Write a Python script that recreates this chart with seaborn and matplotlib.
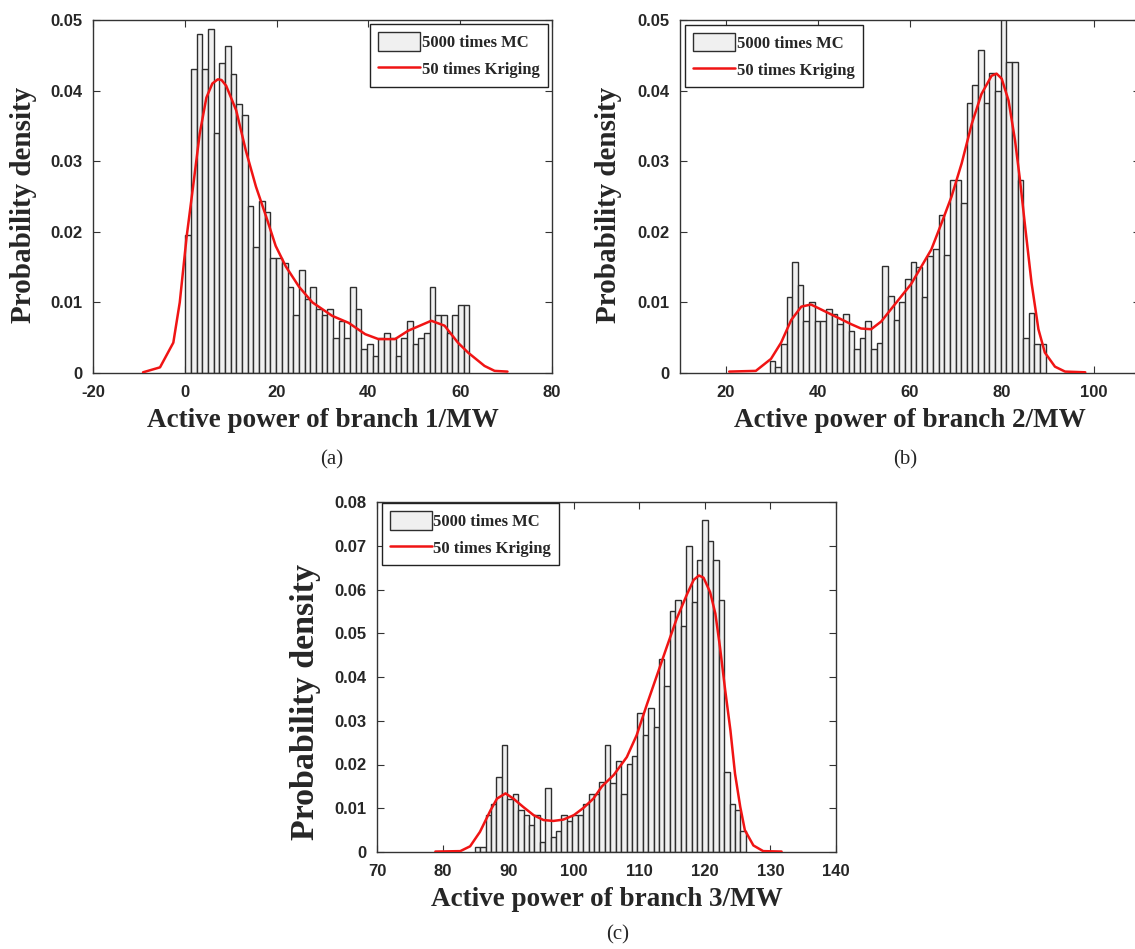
import numpy as np
import pandas as pd
import matplotlib
matplotlib.use("Agg")
import matplotlib.pyplot as plt
import seaborn as sns
from matplotlib.patches import Patch
from matplotlib.lines import Line2D
from matplotlib.font_manager import FontProperties

sns.set_style("ticks")
plt.rcParams["font.family"] = ["Liberation Serif", "DejaVu Serif"]

# ---------------- data ----------------
legend_labels = ["5000 times MC", "50 times Kriging"]

# panel (a)
a_bin_range = (0.1, 62.0)
a_mc_density = [0.0196, 0.0430, 0.0480, 0.0430, 0.0487, 0.0340, 0.0439, 0.0463, 0.0423, 0.0381,
                0.0365, 0.0236, 0.0179, 0.0244, 0.0228, 0.0163, 0.0163, 0.0156, 0.0122, 0.0082,
                0.0146, 0.0105, 0.0122, 0.0090, 0.0082, 0.0090, 0.0050, 0.0074, 0.0050, 0.0122,
                0.0090, 0.0034, 0.0041, 0.0024, 0.0050, 0.0057, 0.0050, 0.0024, 0.0050, 0.0074,
                0.0041, 0.0050, 0.0057, 0.0122, 0.0082, 0.0082, 0.0057, 0.0082, 0.0097, 0.0097]
a_krig_x = [-9.1, -5.4, -2.5, -1.1, 0.4, 1.8, 3.25, 4.7, 6.0, 7.2, 8.0, 9.0, 11.2, 13.3, 15.5,
            17.7, 19.8, 22.0, 24.9, 27.8, 32.1, 35.7, 39.3, 42.2, 45.8, 48.7, 53.7, 56.6,
            59.5, 61.7, 65.3, 67.5, 70.3]
a_krig_y = [0.0001, 0.0008, 0.0043, 0.0100, 0.0193, 0.0264, 0.0339, 0.0390, 0.0410, 0.0416,
            0.0415, 0.0407, 0.0372, 0.0315, 0.0264, 0.0222, 0.0180, 0.0151, 0.0122, 0.0100,
            0.0081, 0.0071, 0.0055, 0.0048, 0.0048, 0.0060, 0.0074, 0.0067, 0.0043, 0.0029,
            0.0010, 0.0003, 0.0002]
a_xticks = [-20, 0, 20, 40, 60, 80]
a_xticklabels = ["-20", "0", "20", "40", "60", "80"]
a_xlabel = "Active power of branch 1/MW"

# panel (b)
b_bin_range = (29.5, 89.6)
b_mc_density = [0.0017, 0.0008, 0.0041, 0.0108, 0.0157, 0.0124, 0.0074, 0.0100, 0.0074, 0.0074,
                0.0091, 0.0083, 0.0069, 0.0083, 0.0060, 0.0034, 0.0050, 0.0074, 0.0034, 0.0043,
                0.0151, 0.0109, 0.0075, 0.0100, 0.0133, 0.0157, 0.0150, 0.0108, 0.0166, 0.0175,
                0.0224, 0.0167, 0.0273, 0.0273, 0.0241, 0.0383, 0.0408, 0.0457, 0.0383, 0.0425,
                0.0400, 0.0530, 0.0441, 0.0441, 0.0273, 0.0050, 0.0085, 0.0041, 0.0041]
b_krig_x = [20.7, 26.5, 29.8, 32.0, 34.2, 36.4, 38.5, 40.7, 42.9, 45.1, 47.3, 49.4, 51.6, 53.8,
            56.0, 58.2, 60.3, 64.7, 66.9, 69.1, 71.3, 73.5, 75.6, 77.8, 78.9, 80.0, 81.5, 82.9,
            84.0, 85.1, 86.5, 88.0, 89.4, 91.6, 93.8, 98.2]
b_krig_y = [0.0002, 0.0003, 0.0020, 0.0043, 0.0075, 0.0094, 0.0097, 0.0090, 0.0083, 0.0076,
            0.0069, 0.0063, 0.0062, 0.0073, 0.0091, 0.0109, 0.0126, 0.0175, 0.0212, 0.0250,
            0.0297, 0.0353, 0.0395, 0.0421, 0.0424, 0.0417, 0.0386, 0.0330, 0.0273, 0.0208,
            0.0128, 0.0062, 0.0029, 0.0009, 0.0002, 0.0001]
b_xticks = [20, 40, 60, 80, 100]
b_xticklabels = ["20", "40", "60", "80", "100"]
b_xlabel = "Active power of branch 2/MW"

# panel (c)
c_bin_range = (84.9, 126.25)
c_mc_density = [0.0011, 0.0011, 0.0084, 0.0110, 0.0171, 0.0244, 0.0122, 0.0133, 0.0097, 0.0084,
                0.0061, 0.0085, 0.0023, 0.0146, 0.0034, 0.0048, 0.0085, 0.0072, 0.0085, 0.0085,
                0.0109, 0.0133, 0.0133, 0.0160, 0.0244, 0.0157, 0.0208, 0.0133, 0.0202, 0.0220,
                0.0318, 0.0268, 0.0330, 0.0286, 0.0442, 0.0379, 0.0552, 0.0577, 0.0516, 0.0699,
                0.0571, 0.0668, 0.0760, 0.0711, 0.0668, 0.0577, 0.0183, 0.0109, 0.0097, 0.0048]
c_krig_x = [78.9, 82.7, 84.2, 85.7, 87.3, 88.3, 89.6, 90.8, 92.3, 93.9, 95.4, 96.9, 98.4, 100.0,
            101.5, 103.0, 104.3, 106.1, 108.1, 109.6, 111.2, 112.7, 114.2, 115.7, 117.3, 118.3,
            119.1, 119.8, 120.8, 121.6, 122.3, 123.1, 123.9, 124.6, 125.4, 126.1, 127.4, 128.9,
            131.7]
c_krig_y = [0.0001, 0.0002, 0.0013, 0.0046, 0.0095, 0.0122, 0.0134, 0.0122, 0.0103, 0.0084,
            0.0073, 0.0071, 0.0074, 0.0084, 0.0101, 0.0122, 0.0150, 0.0176, 0.0217, 0.0267,
            0.0339, 0.0404, 0.0469, 0.0533, 0.0590, 0.0622, 0.0632, 0.0627, 0.0594, 0.0545,
            0.0469, 0.0370, 0.0278, 0.0179, 0.0103, 0.0050, 0.0015, 0.0002, 0.0001]
c_xticks = [70, 80, 90, 100, 110, 120, 130, 140]
c_xticklabels = ["70", "80", "90", "100", "110", "120", "130", "140"]
c_xlabel = "Active power of branch 3/MW"

ab_yticks = [0, 0.01, 0.02, 0.03, 0.04, 0.05]
ab_yticklabels = ["0", "0.01", "0.02", "0.03", "0.04", "0.05"]
c_yticks = [0, 0.01, 0.02, 0.03, 0.04, 0.05, 0.06, 0.07, 0.08]
c_yticklabels = ["0", "0.01", "0.02", "0.03", "0.04", "0.05", "0.06", "0.07", "0.08"]
ylabel_text = "Probability density"
panel_labels = ["(a)", "(b)", "(c)"]

# ---------------- style ----------------
BAR_FACE = "#f0f0f0"
BAR_EDGE = "#2e2e2e"
CURVE = "#f01414"
tick_font = FontProperties(family="Liberation Sans", weight="bold", size=12)
label_font = FontProperties(family="Liberation Serif", weight="bold", size=19.5)
legend_font = FontProperties(family="Liberation Serif", weight="bold", size=12)

W, H = 1135, 949
fig = plt.figure(figsize=(W / 100, H / 100), dpi=100)


def px_rect(left, top, right, bottom):
    return [left / W, 1 - bottom / H, (right - left) / W, (bottom - top) / H]


def draw_panel(rect, bin_range, dens, kx, ky, xlim, xticks, xticklabels, ylim, yticks,
               yticklabels, xlabel, ylabel_size, ylabel_xy, legend_kw):
    ax = fig.add_axes(rect)
    n = len(dens)
    width = (bin_range[1] - bin_range[0]) / n
    centers = bin_range[0] + width * (np.arange(n) + 0.5)
    df = pd.DataFrame({"x": centers, "w": np.asarray(dens, dtype=float)})
    sns.histplot(data=df, x="x", weights="w", bins=n, binrange=bin_range, stat="count", ax=ax,
                 color=BAR_FACE, edgecolor=BAR_EDGE, linewidth=1.0, alpha=1.0)
    dk = pd.DataFrame({"x": kx, "y": ky})
    sns.lineplot(data=dk, x="x", y="y", ax=ax, color=CURVE, linewidth=1.8, zorder=4)
    ax.set_xlim(*xlim)
    ax.set_ylim(*ylim)
    ax.set_xticks(xticks)
    ax.set_xticklabels(xticklabels, fontproperties=tick_font)
    ax.set_yticks(yticks)
    ax.set_yticklabels(yticklabels, fontproperties=tick_font)
    ax.tick_params(direction="in", top=True, right=True, length=5, width=0.8,
                   color="#333333")
    ax.tick_params(axis="x", pad=8.5)
    ax.tick_params(axis="y", pad=7.5)
    for s in ax.spines.values():
        s.set_linewidth(1.0)
        s.set_color("#333333")
        s.set_visible(True)
    ax.set_xlabel(xlabel, fontproperties=label_font)
    ax.xaxis.set_label_coords(0.5, -0.100)
    yf = FontProperties(family="Liberation Serif", weight="bold", size=ylabel_size)
    ax.set_ylabel(ylabel_text, fontproperties=yf)
    ax.yaxis.set_label_coords(*ylabel_xy)
    handles = [Patch(facecolor=BAR_FACE, edgecolor=BAR_EDGE, linewidth=1.0),
               Line2D([0], [0], color=CURVE, linewidth=1.8)]
    leg = ax.legend(handles, legend_labels, prop=legend_font, frameon=True, fancybox=False,
                    edgecolor="#222222", framealpha=1, handlelength=2.5, handleheight=1.3,
                    handletextpad=0.1, borderpad=0.5, labelspacing=0.5, **legend_kw)
    leg.get_frame().set_linewidth(1.0)
    return ax


draw_panel(px_rect(93, 20, 552, 373), a_bin_range, a_mc_density, a_krig_x, a_krig_y,
           (-20, 80), a_xticks, a_xticklabels, (0, 0.05), ab_yticks, ab_yticklabels,
           a_xlabel, 21, (-0.122, 0.476),
           dict(loc="upper right", borderaxespad=0.25))

draw_panel(px_rect(680, 20, 1139.5, 373), b_bin_range, b_mc_density, b_krig_x, b_krig_y,
           (10, 110), b_xticks, b_xticklabels, (0, 0.05), ab_yticks, ab_yticklabels,
           b_xlabel, 21, (-0.126, 0.476),
           dict(loc="upper left", borderaxespad=0.3))

draw_panel(px_rect(377, 502, 836, 852), c_bin_range, c_mc_density, c_krig_x, c_krig_y,
           (70, 140), c_xticks, c_xticklabels, (0, 0.08), c_yticks, c_yticklabels,
           c_xlabel, 24.5, (-0.122, 0.43),
           dict(loc="upper left", bbox_to_anchor=(0.01, 0.997), borderaxespad=0.0))

panel_font = FontProperties(family="Liberation Serif", size=15)
fig.text(332 / W, 1 - 460 / H, panel_labels[0], fontproperties=panel_font, ha="center", va="center")
fig.text(905 / W, 1 - 460 / H, panel_labels[1], fontproperties=panel_font, ha="center", va="center")
fig.text(618 / W, 1 - 935 / H, panel_labels[2], fontproperties=panel_font, ha="center", va="center")

fig.savefig("out.png", dpi=100)
